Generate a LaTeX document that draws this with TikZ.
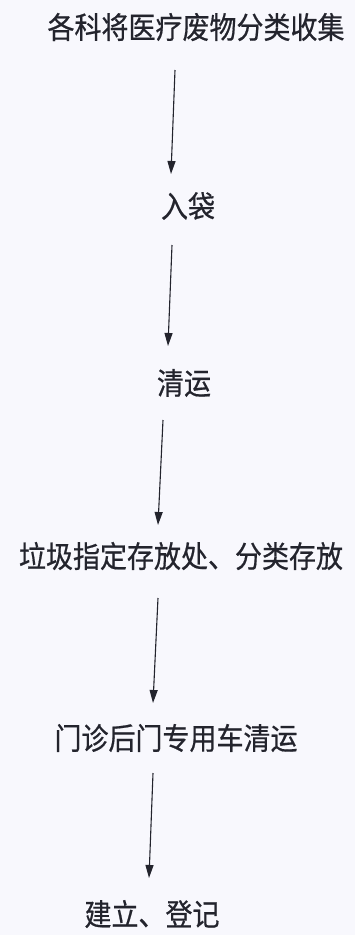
\documentclass[tikz,border=0pt]{standalone}
\usepackage{fontspec}
\setmainfont{Noto Sans CJK SC}[FakeBold=0.6]
\usetikzlibrary{arrows.meta}
\definecolor{paper}{RGB}{248,248,253}
\definecolor{ink}{RGB}{35,36,45}
\tikzset{
  lbl/.style={font=\fontsize{27}{30}\selectfont, text=ink, inner sep=0pt, anchor=center, yscale=1.12, transform shape},
  flow/.style={draw=ink, line width=1.1pt, -{Triangle[length=13pt,width=8pt]}}
}
\begin{document}
\begin{tikzpicture}[x=1pt,y=-1pt]
\fill[paper] (0,0) rectangle (355,935);
\useasboundingbox (0,0) rectangle (355,935);
\node[lbl] (n1) at (196,27) {各科将医疗废物分类收集};
\node[lbl] (n2) at (188,206) {入袋};
\node[lbl] (n3) at (184,383) {清运};
\node[lbl] (n4) at (181,556) {垃圾指定存放处、分类存放};
\node[lbl] (n5) at (176,738) {门诊后门专用车清运};
\node[lbl] (n6) at (152,914) {建立、登记};
\coordinate (a1s) at (175,70);  \coordinate (a1e) at (171,174);
\coordinate (a2s) at (172,245); \coordinate (a2e) at (168,346);
\coordinate (a3s) at (163,420); \coordinate (a3e) at (158,525);
\coordinate (a4s) at (158,598); \coordinate (a4e) at (153,703);
\coordinate (a5s) at (153,773); \coordinate (a5e) at (149,878);
\draw[flow] (a1s) -- (a1e);
\draw[flow] (a2s) -- (a2e);
\draw[flow] (a3s) -- (a3e);
\draw[flow] (a4s) -- (a4e);
\draw[flow] (a5s) -- (a5e);
\end{tikzpicture}
\end{document}
